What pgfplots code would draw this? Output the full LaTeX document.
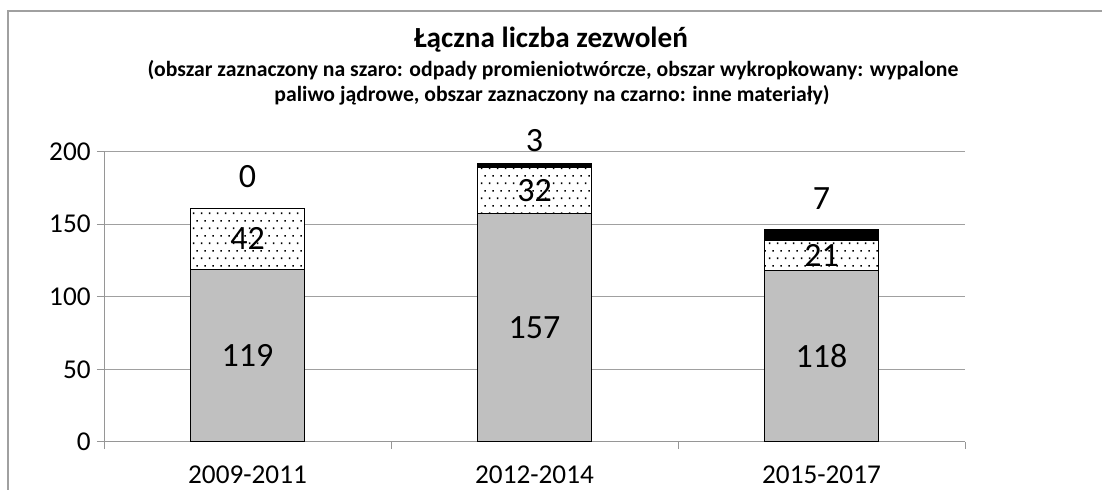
\documentclass[border=0pt]{standalone}
\usepackage{pgfplots}
\pgfplotsset{compat=1.18}
\usepackage{pgfplotstable}
\usepackage{fontspec}
\setmainfont{Carlito}
\usetikzlibrary{patterns.meta}

\definecolor{bargray}{RGB}{192,192,192}
\definecolor{gridgray}{RGB}{160,160,160}
\definecolor{axisgray}{RGB}{150,150,150}
\definecolor{framegray}{RGB}{160,160,160}

\pgfdeclarepattern{
  name=sparsedots,
  type=uncolored,
  bottom left={\pgfpointorigin},
  top right={\pgfpoint{4pt}{7.7pt}},
  tile size={\pgfpoint{4pt}{7.7pt}},
  code={
    \pgfpathrectangle{\pgfpoint{0.5pt}{0.5pt}}{\pgfpoint{0.8pt}{0.8pt}}
    \pgfpathrectangle{\pgfpoint{2.5pt}{4.35pt}}{\pgfpoint{0.8pt}{0.8pt}}
    \pgfusepath{fill}
  }
}

\pgfplotstableread{
x y
0 119
1 157
2 118
}\graydata
\pgfplotstableread{
x y
0 42
1 32
2 21
}\dotdata
\pgfplotstableread{
x y off
0 0 10
1 3 5.5
2 7 10
}\blackdata

\pgfkeys{/pgf/number format/assume math mode=true}

\begin{document}
\begin{tikzpicture}
\useasboundingbox (0pt,0pt) rectangle (551pt,-245pt);
% chart frame
\draw[framegray, line width=0.6pt] (4pt,-260pt) -- (4pt,-5.5pt) -- (600pt,-5.5pt);
% titles
\node[anchor=base, font=\bfseries\fontsize{14.6}{17}\selectfont] at (275.5pt,-24pt) {Łączna liczba zezwoleń};
\node[anchor=base, font=\bfseries\fontsize{10.85}{12}\selectfont] at (276.5pt,-38.5pt) {(obszar zaznaczony na szaro: odpady promieniotwórcze, obszar wykropkowany: wypalone};
\node[anchor=base, font=\bfseries\fontsize{10.85}{12}\selectfont] at (276pt,-51pt) {paliwo jądrowe, obszar zaznaczony na czarno: inne materiały)};
\begin{axis}[
  at={(52pt,-221pt)}, anchor=south west,
  x=143.5pt, y=0.7265pt,
  xmin=-0.5, xmax=2.5, ymin=0, ymax=200,
  ybar stacked, bar width=57pt,
  axis x line*=bottom, axis y line*=left,
  axis line style={draw=axisgray, line width=0.5pt},
  ytick={0,50,100,150,200},
  ymajorgrids, grid style={draw=gridgray, line width=0.5pt},
  xtick={-0.5,0.5,1.5,2.5}, xticklabels={},
  extra x ticks={0,1,2},
  extra x tick labels={2009-2011,2012-2014,2015-2017},
  extra x tick style={major tick length=0pt, grid=none},
  tick align=outside, major tick length=3.5pt,
  tick style={draw=axisgray, line width=0.5pt},
  tick label style={font=\fontsize{13.6}{16}\selectfont},
  yticklabel style={inner sep=0pt, xshift=-3pt},
  xticklabel style={inner sep=0pt, yshift=-11.5pt},
  point meta=explicit,
  clip=false,
]
\addplot[fill=bargray, draw=black, line width=0.5pt,
  nodes near coords,
  every node near coord/.append style={anchor=center, inner sep=0pt, text=black,
    font=\fontsize{17}{20}\selectfont}]
  table[x=x, y=y, meta=y] {\graydata};
\addplot[fill=white, draw=black, line width=0.5pt,
  postaction={pattern=sparsedots, pattern color=black},
  nodes near coords,
  every node near coord/.append style={anchor=center, inner sep=0pt, text=black,
    font=\fontsize{17}{20}\selectfont}]
  table[x=x, y=y, meta=y] {\dotdata};
\addplot[fill=black, draw=black, line width=0.5pt,
  nodes near coords,
  visualization depends on={\thisrow{y} \as \segh},
  visualization depends on={\thisrow{off} \as \offs},
  every node near coord/.append style={anchor=south, inner sep=0pt, text=black,
    font=\fontsize{17}{20}\selectfont, yshift={\offs*1pt+\segh*0.36325pt}}]
  table[x=x, y=y, meta=y] {\blackdata};
% label of the zero-height black segment of the first bar (total 119+42+0 = 161)
\node[anchor=south, inner sep=0pt, font=\fontsize{17}{20}\selectfont, yshift=10pt]
  at (axis cs:0,161) {0};
\end{axis}
\end{tikzpicture}
\end{document}
